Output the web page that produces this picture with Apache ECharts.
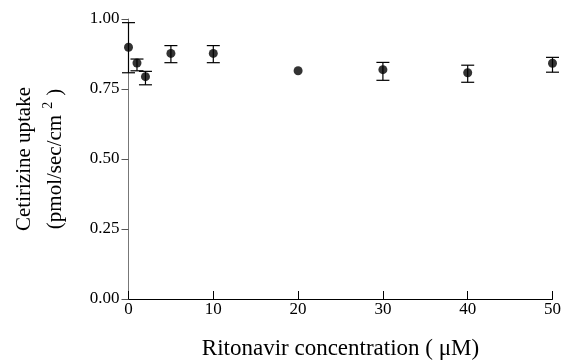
<!DOCTYPE html>
<html>
<head>
<meta charset="utf-8">
<script src="https://cdn.jsdelivr.net/npm/echarts@6/dist/echarts.min.js"></script>
<style>html,body{margin:0;padding:0;background:#fff;}#c{width:566px;height:362px;}</style>
</head>
<body>
<div id="c"></div>
<script>
const concentration = [0, 1, 2, 5, 10, 20, 30, 40, 50];
const uptake = [0.899, 0.843, 0.794, 0.877, 0.877, 0.815, 0.819, 0.808, 0.842];
const errLow = [0.808, 0.815, 0.765, 0.844, 0.844, 0.815, 0.781, 0.774, 0.810];
const errHigh = [0.987, 0.857, 0.813, 0.905, 0.905, 0.815, 0.845, 0.835, 0.863];
const xTicks = [0, 10, 20, 30, 40, 50];
const yTicks = [0, 0.25, 0.5, 0.75, 1.0];

const FONT = '"Liberation Serif", "Times New Roman", serif';
const chart = echarts.init(document.getElementById('c'));
const errData = concentration.map((x, i) => [x, errLow[i], errHigh[i]]);
const pts = concentration.map((x, i) => [x, uptake[i]]);

chart.setOption({
  animation: false,
  backgroundColor: '#fff',
  grid: { left: 128.5, right: 13.5, top: 19, bottom: 63, containLabel: false, outerBoundsMode: 'none' },
  xAxis: {
    type: 'value', min: xTicks[0], max: xTicks[xTicks.length - 1], interval: 10,
    splitLine: { show: false },
    axisLine: { lineStyle: { color: '#000', width: 1 } },
    axisTick: { inside: true, length: 8, lineStyle: { color: '#000' } },
    axisLabel: { color: '#000', fontFamily: FONT, fontSize: 17, margin: 2 },
    name: 'Ritonavir concentration ( \u03bcM)',
    nameLocation: 'middle', nameGap: 38,
    nameTextStyle: { color: '#000', fontFamily: FONT, fontSize: 23 }
  },
  yAxis: {
    type: 'value', min: yTicks[0], max: yTicks[yTicks.length - 1], interval: 0.25,
    splitLine: { show: false },
    axisLine: { show: true, lineStyle: { color: '#777', width: 1 } },
    axisTick: { show: true, inside: false, length: 7, lineStyle: { color: '#555' } },
    axisLabel: { color: '#000', fontFamily: FONT, fontSize: 17, margin: 9,
      formatter: v => v.toFixed(2) },
    name: '{n|Cetirizine uptake}\n{n|(pmol/sec/cm}{s|2}{n|)}',
    nameLocation: 'middle', nameRotate: 90, nameGap: 58,
    nameTextStyle: {
      color: '#000', fontFamily: FONT, fontSize: 21,
      rich: {
        n: { fontFamily: FONT, fontSize: 21, color: '#000', lineHeight: 31 },
        s: { fontFamily: FONT, fontSize: 14, color: '#000', padding: [0, 6, 13, 6], lineHeight: 31 }
      }
    }
  },
  series: [
    {
      type: 'custom',
      data: errData,
      renderItem: function (params, api) {
        const x = api.value(0);
        if (api.value(1) === api.value(2)) return null;
        const lo = api.coord([x, api.value(1)]);
        const hi = api.coord([x, api.value(2)]);
        const w = 6.5;
        const st = { stroke: '#000', lineWidth: 1.2 };
        return {
          type: 'group',
          children: [
            { type: 'line', shape: { x1: lo[0], y1: lo[1], x2: hi[0], y2: hi[1] }, style: st },
            { type: 'line', shape: { x1: lo[0] - w, y1: lo[1], x2: lo[0] + w, y2: lo[1] }, style: st },
            { type: 'line', shape: { x1: hi[0] - w, y1: hi[1], x2: hi[0] + w, y2: hi[1] }, style: st }
          ]
        };
      },
      z: 2
    },
    {
      type: 'scatter',
      data: pts,
      symbol: 'circle',
      symbolSize: 9,
      itemStyle: { color: '#000' },
      z: 3
    }
  ]
});
</script>
</body>
</html>
